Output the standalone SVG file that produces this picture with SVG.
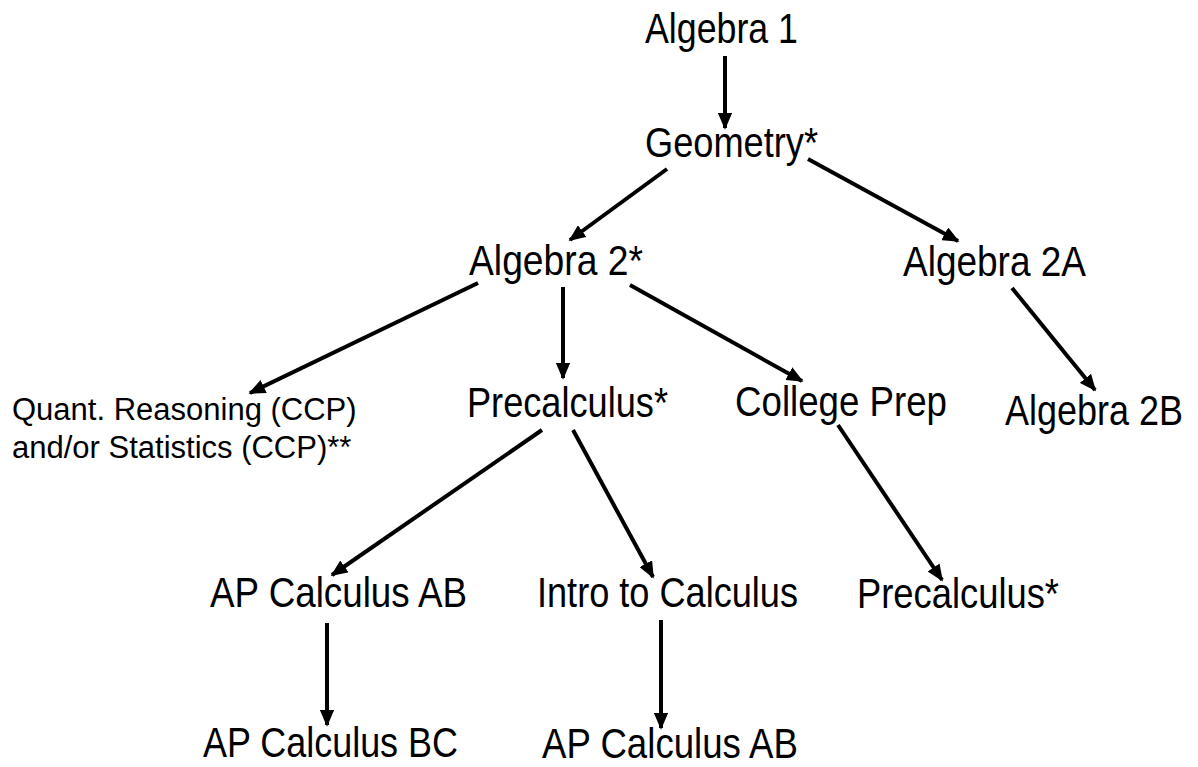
<svg xmlns="http://www.w3.org/2000/svg" width="1198" height="767" viewBox="0 0 1198 767">
<defs>
<style>
text{font-family:"Liberation Sans",Arial,sans-serif;font-size:42px;fill:#000;text-anchor:middle}
.small{font-size:31px;text-anchor:start}
.c{stroke:#000;stroke-width:4;fill:none;marker-end:url(#ah)}
</style>
<marker id="ah" viewBox="0 0 10 10" refX="9" refY="5" markerWidth="4.2" markerHeight="3.6" orient="auto" markerUnits="strokeWidth" preserveAspectRatio="none">
<path d="M0,0 L10,5 L0,10 z" fill="#000"/>
</marker>
</defs>
<rect width="1198" height="767" fill="#fff"/>
<g id="connectors">
<line class="c" x1="725" y1="56" x2="725" y2="128"/>
<line class="c" x1="667" y1="169" x2="570" y2="240"/>
<line class="c" x1="808" y1="159" x2="958" y2="241"/>
<line class="c" x1="478" y1="283" x2="250" y2="393"/>
<line class="c" x1="563" y1="287" x2="563" y2="378"/>
<line class="c" x1="630" y1="285" x2="802" y2="381"/>
<line class="c" x1="1012" y1="288" x2="1095" y2="390"/>
<line class="c" x1="542" y1="430" x2="332" y2="575"/>
<line class="c" x1="573" y1="430" x2="653" y2="577"/>
<line class="c" x1="838" y1="425" x2="942" y2="580"/>
<line class="c" x1="327" y1="623" x2="327" y2="725"/>
<line class="c" x1="661" y1="620" x2="661" y2="728"/>
</g>
<g id="n-algebra1"><text x="721.5" y="43" textLength="153" lengthAdjust="spacingAndGlyphs">Algebra 1</text></g>
<g id="n-geometry"><text x="731.5" y="157" textLength="173" lengthAdjust="spacingAndGlyphs">Geometry*</text></g>
<g id="n-algebra2"><text x="556" y="275" textLength="174" lengthAdjust="spacingAndGlyphs">Algebra 2*</text></g>
<g id="n-algebra2a"><text x="994.5" y="276" textLength="183" lengthAdjust="spacingAndGlyphs">Algebra 2A</text></g>
<g id="n-quant"><text class="small" x="12" y="420">Quant. Reasoning (CCP)</text><text class="small" x="12" y="458">and/or Statistics (CCP)**</text></g>
<g id="n-precalc1"><text x="567.5" y="417" textLength="201" lengthAdjust="spacingAndGlyphs">Precalculus*</text></g>
<g id="n-collegeprep"><text x="841" y="416" textLength="212" lengthAdjust="spacingAndGlyphs">College Prep</text></g>
<g id="n-algebra2b"><text x="1094" y="425" textLength="178" lengthAdjust="spacingAndGlyphs">Algebra 2B</text></g>
<g id="n-apcalcab1"><text x="338.5" y="607" textLength="257" lengthAdjust="spacingAndGlyphs">AP Calculus AB</text></g>
<g id="n-introcalc"><text x="667.5" y="607" textLength="261" lengthAdjust="spacingAndGlyphs">Intro to Calculus</text></g>
<g id="n-precalc2"><text x="958" y="608" textLength="202" lengthAdjust="spacingAndGlyphs">Precalculus*</text></g>
<g id="n-apcalcbc"><text x="330.5" y="757" textLength="255" lengthAdjust="spacingAndGlyphs">AP Calculus BC</text></g>
<g id="n-apcalcab2"><text x="670" y="758" textLength="256" lengthAdjust="spacingAndGlyphs">AP Calculus AB</text></g>
</svg>
